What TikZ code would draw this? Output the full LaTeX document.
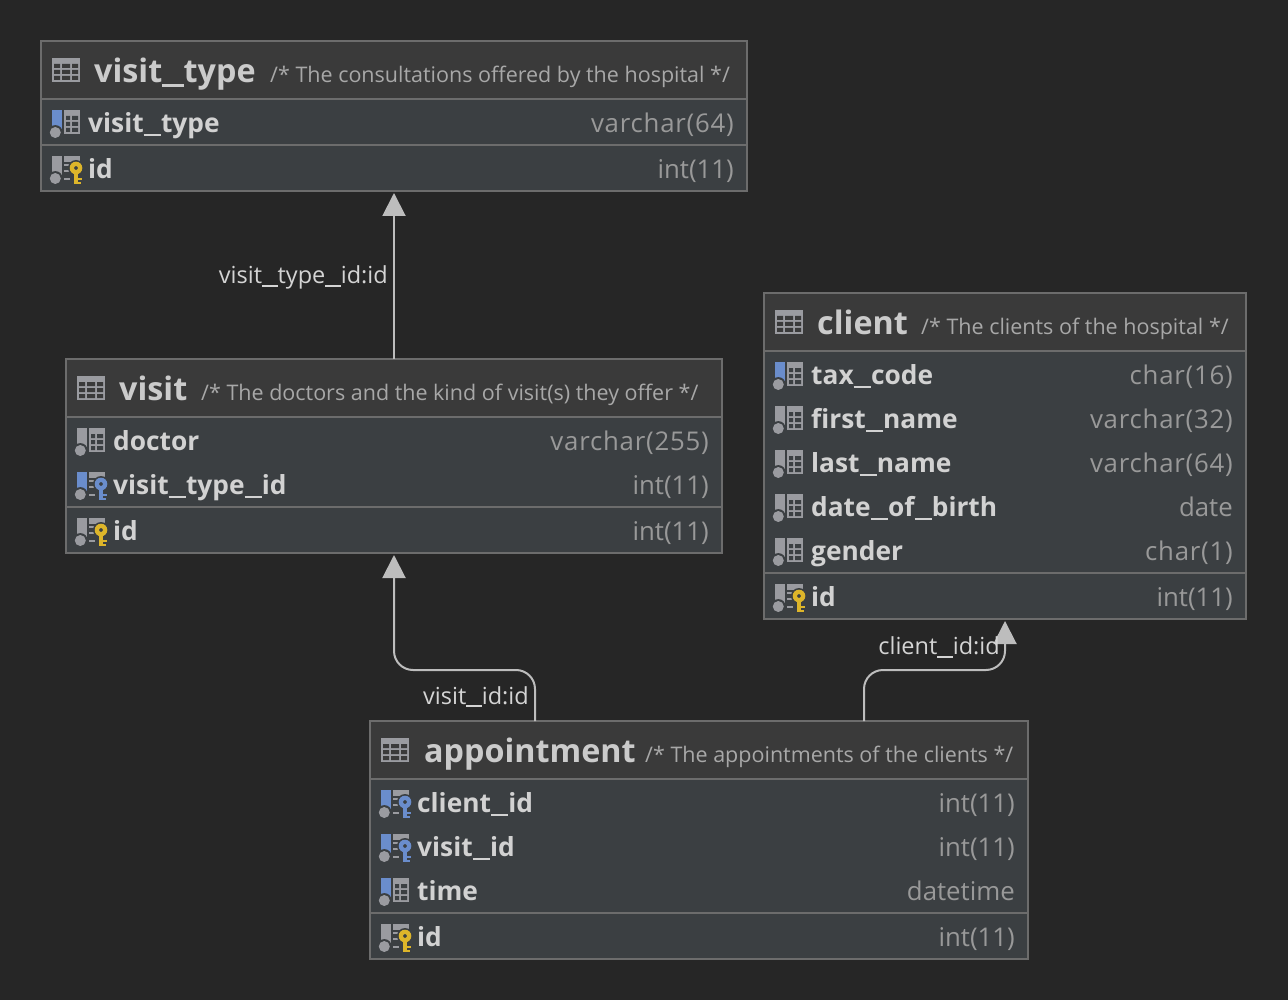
\documentclass[tikz,border=0pt]{standalone}
\usepackage{fontspec}
\setmainfont{Open Sans}
\usetikzlibrary{arrows.meta}
\definecolor{bgc}{HTML}{262626}
\definecolor{headc}{HTML}{3A3A3A}
\definecolor{rowc}{HTML}{3B3F42}
\definecolor{linec}{HTML}{6C6C6C}
\definecolor{titlec}{HTML}{CBCBCB}
\definecolor{fieldc}{HTML}{D2D2D2}
\definecolor{typec}{HTML}{999999}
\definecolor{commc}{HTML}{A8A8A8}
\definecolor{iconc}{HTML}{9A9BA0}
\definecolor{bluec}{HTML}{6A8DCC}
\definecolor{goldc}{HTML}{DDB52A}
\definecolor{connc}{HTML}{BDBDBD}
\definecolor{labc}{HTML}{D4D4D4}
\newcommand{\us}{\rule[-0.13em]{0.66em}{0.085em}}
\newcommand{\widetxt}[1]{{\addfontfeature{LetterSpace=3}#1}}
\tikzset{
  tablebox/.style={draw=linec,line width=2pt,fill=rowc,inner sep=0pt,outer sep=0pt,anchor=north west},
  titletxt/.style={text=titlec,font=\fontsize{32.3}{36}\selectfont\bfseries,anchor=base west,inner sep=0pt},
  commenttxt/.style={text=commc,font=\fontsize{21.5}{26}\selectfont,anchor=base west,inner sep=0pt},
  fieldtxt/.style={text=fieldc,font=\fontsize{26.3}{30}\selectfont\bfseries,anchor=base west,inner sep=0pt},
  typetxt/.style={text=typec,font=\fontsize{25.8}{30}\selectfont,anchor=base east,inner sep=0pt},
  fklabel/.style={text=labc,font=\fontsize{23.5}{28}\selectfont,anchor=base east,inner sep=0pt},
  conn/.style={draw=connc,line width=2pt,rounded corners=19pt,shorten >=2pt,-{Triangle[width=23pt,length=23pt,fill=connc]}},
  sepline/.style={draw=linec,line width=2pt},
}
\newcommand{\tableicon}[2]{%
  \begin{scope}[shift={(#1,#2)}]
    \fill[iconc] (0,0) rectangle (28,24);
    \fill[headc] (2,6) rectangle (8,10) (10,6) rectangle (18,10) (20,6) rectangle (26,10)
      (2,12) rectangle (8,16) (10,12) rectangle (18,16) (20,12) rectangle (26,16)
      (2,18) rectangle (8,22) (10,18) rectangle (18,22) (20,18) rectangle (26,22);
  \end{scope}}
\newcommand{\baricon}[1]{%
  \fill[#1] (0,0) rectangle (10,20);
  \fill[rowc] (3.3,22.5) circle (7.4);
  \fill[iconc] (3.3,22.5) circle (5.5);}
\newcommand{\colicon}[3]{%
  \begin{scope}[shift={(#1,#2)}]
    \baricon{#3}
    \fill[iconc] (12,0) rectangle (28,24);
    \fill[rowc] (14,6) rectangle (18,10) (20,6) rectangle (26,10)
      (14,12) rectangle (18,16) (20,12) rectangle (26,16)
      (14,18) rectangle (18,22) (20,18) rectangle (26,22);
  \end{scope}}
\newcommand{\keyicon}[4]{%
  \begin{scope}[shift={(#1,#2)}]
    \baricon{#3}
    \fill[iconc] (12,0) rectangle (28,6);
    \fill[iconc] (12,8) rectangle (18,10);
    \fill[iconc] (12,14) rectangle (18,16);
    \fill[iconc] (12,22) rectangle (18,24);
    \fill[rowc] (24,12) circle (8);
    \fill[rowc] (20.5,14) rectangle (31,29.5);
    \fill[#4] (22,15) rectangle (26,28);
    \fill[#4] (26,22) rectangle (30,24);
    \fill[#4] (26,26) rectangle (29,28);
    \fill[#4,even odd rule] (24,12) circle (6.3) (24,12) circle (2);
  \end{scope}}
\newcommand{\fieldrow}[7]{% name, icon left, centre y, right x, field, type, icon-code
  #7
  \node[fieldtxt] (#1f) at (#2+37,#3+9.5) {#5};
  \node[typetxt] (#1t) at (#4,#3+9.5) {#6};}
\begin{document}
\begin{tikzpicture}[x=1pt,y=-1pt]
\useasboundingbox[fill=bgc] (0,0) rectangle (1288,1000);

% visit_type
\node[tablebox,minimum width=706pt,minimum height=150pt] (visittype) at (41,41) {};
\fill[headc] (42,42) rectangle (746,98);
\draw[sepline] (41,99)--(747,99) (41,145)--(747,145);
\tableicon{52}{58}
\node[titletxt] (vttitle) at (94,82.5) {visit\us type};
\node[commenttxt] (vtcomment) at (270,82.5) {/* The consultations offered by the hospital */};
\fieldrow{vta}{51}{123}{734}{visit\us type}{\widetxt{varchar(64)}}{\colicon{52}{110}{bluec}}
\fieldrow{vtb}{51}{169}{734}{id}{int(11)}{\keyicon{52}{156}{iconc}{goldc}}

% visit
\node[tablebox,minimum width=656pt,minimum height=194pt] (visit) at (66,359) {};
\fill[headc] (67,360) rectangle (721,416);
\draw[sepline] (66,417)--(722,417) (66,507)--(722,507);
\tableicon{77}{376}
\node[titletxt] (vtitle) at (119,400.5) {visit};
\node[commenttxt] (vcomment) at (201,400.5) {/* The doctors and the kind of visit(s) they offer */};
\fieldrow{va}{76}{441}{709}{doctor}{\widetxt{varchar(255)}}{\colicon{77}{428}{iconc}}
\fieldrow{vb}{76}{485}{709}{visit\us type\us id}{int(11)}{\keyicon{77}{472}{bluec}{bluec}}
\fieldrow{vc}{76}{531}{709}{id}{int(11)}{\keyicon{77}{518}{iconc}{goldc}}

% client
\node[tablebox,minimum width=482pt,minimum height=326pt] (client) at (764,293) {};
\fill[headc] (765,294) rectangle (1245,350);
\draw[sepline] (764,351)--(1246,351) (764,573)--(1246,573);
\tableicon{775}{310}
\node[titletxt] (ctitle) at (817,334.5) {client};
\node[commenttxt] (ccomment) at (921,334.5) {/* The clients of the hospital */};
\fieldrow{ca}{774}{375}{1233}{tax\us code}{\widetxt{char(16)}}{\colicon{775}{362}{bluec}}
\fieldrow{cb}{774}{419}{1233}{first\us name}{\widetxt{varchar(32)}}{\colicon{775}{406}{iconc}}
\fieldrow{cc}{774}{463}{1233}{last\us name}{\widetxt{varchar(64)}}{\colicon{775}{450}{iconc}}
\fieldrow{cd}{774}{507}{1233}{date\us of\us birth}{date}{\colicon{775}{494}{iconc}}
\fieldrow{ce}{774}{551}{1233}{gender}{\widetxt{char(1)}}{\colicon{775}{538}{iconc}}
\fieldrow{cf}{774}{597}{1233}{id}{int(11)}{\keyicon{775}{584}{iconc}{goldc}}

% appointment
\node[tablebox,minimum width=658pt,minimum height=238pt] (appointment) at (370,721) {};
\fill[headc] (371,722) rectangle (1027,778);
\draw[sepline] (370,779)--(1028,779) (370,913)--(1028,913);
\tableicon{381}{738}
\node[titletxt] (atitle) at (424,762.5) {appointment};
\node[commenttxt] (acomment) at (645,762.5) {/* The appointments of the clients */};
\fieldrow{aa}{380}{803}{1015}{client\us id}{int(11)}{\keyicon{381}{790}{bluec}{bluec}}
\fieldrow{ab}{380}{847}{1015}{visit\us id}{int(11)}{\keyicon{381}{834}{bluec}{bluec}}
\fieldrow{ac}{380}{891}{1015}{time}{datetime}{\colicon{381}{878}{bluec}}
\fieldrow{ad}{380}{937}{1015}{id}{int(11)}{\keyicon{381}{924}{iconc}{goldc}}

% connectors
\draw[conn] (visit.north) -- (visittype.south);
\draw[conn] ([xshift=-164pt]appointment.north) -- ++(0,-51) -| (visit.south);
\draw[conn] ([xshift=165pt]appointment.north) -- ++(0,-51) -| (client.south);
\node[fklabel] (l1) at (388,284) {visit\us type\us id:id};
\node[fklabel] (l2) at (529,704) {visit\us id:id};
\node[fklabel] (l3) at (1000,654.5) {client\us id:id};
\end{tikzpicture}
\end{document}
